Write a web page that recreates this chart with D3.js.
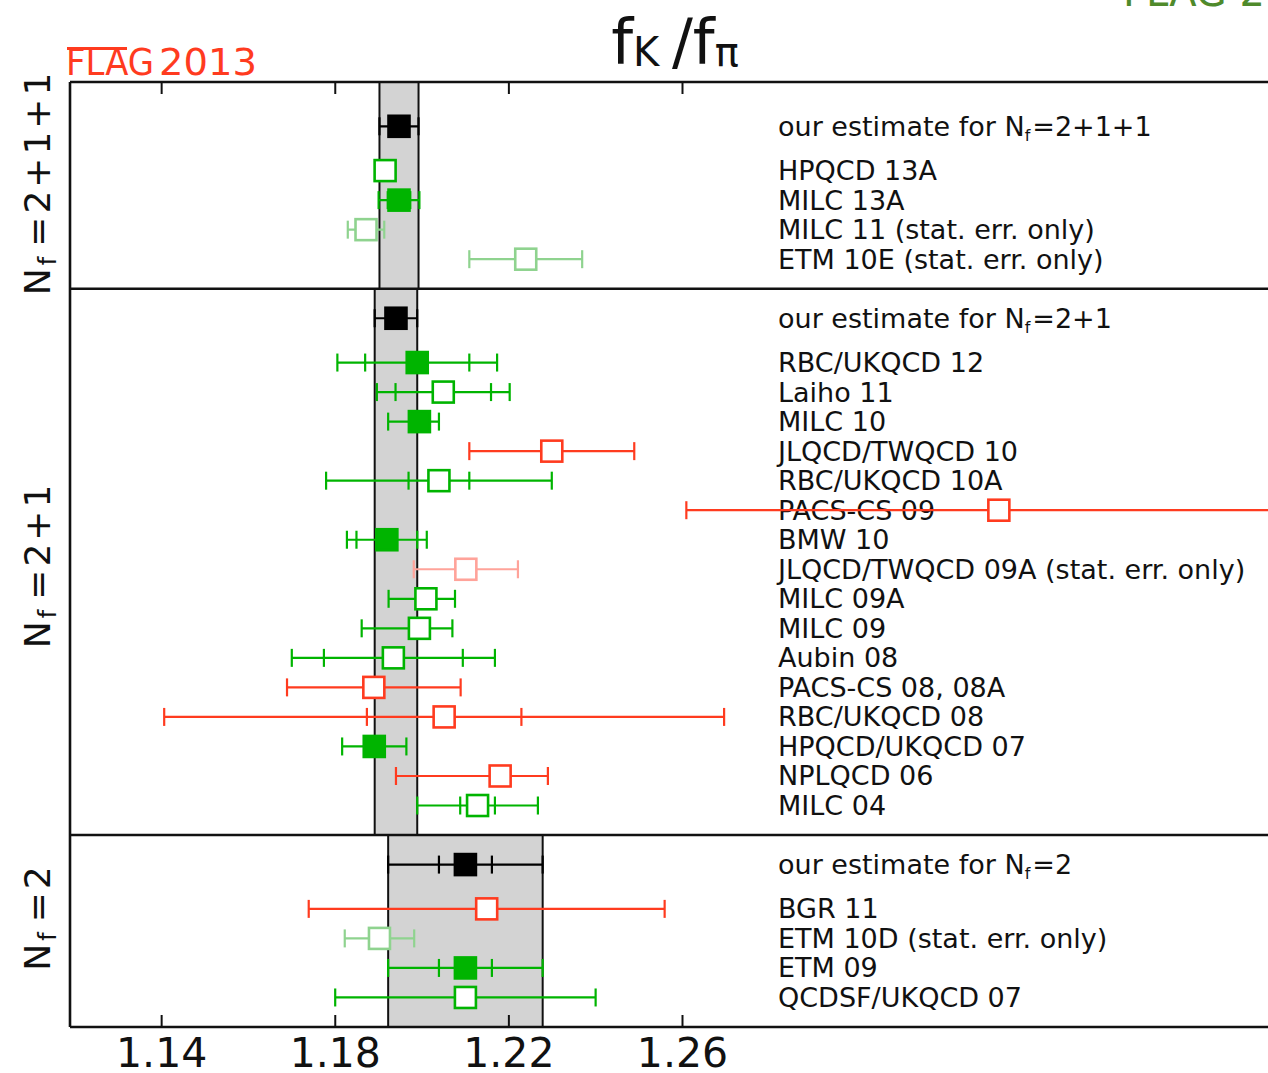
<!DOCTYPE html>
<html lang="en">
<head>
<meta charset="utf-8">
<title>fK/fpi</title>
<script src="https://d3js.org/d3.v7.min.js"></script>
<style>
  body { margin: 0; background: #fff; }
  svg { display: block; font-family: "DejaVu Sans", sans-serif; }
</style>
</head>
<body>
<script>
// tick labels
var xTicks = [1.14, 1.18, 1.22, 1.26];

// panels (N_f) and the FLAG estimate of each: value, stat error, total error
var panelNf  = ["2+1+1", "2+1", "2"];
var estValue = [1.1948, 1.1941, 1.2101];
var estStat  = [null, null, 0.0061];
var estErr   = [0.0045, 0.0049, 0.0178];

// N_f = 2+1+1
var names4 = ["HPQCD 13A", "MILC 13A", "MILC 11 (stat. err. only)", "ETM 10E (stat. err. only)"];
var value4 = [1.1916, 1.1948, 1.1872, 1.224];
var stat4  = [null, 0.0026, null, null];
var lo4    = [0.0015, 0.0047, 0.0042, 0.013];
var hi4    = [0.0015, 0.0047, 0.0042, 0.013];
var kind4  = ["open", "full", "faint", "faint"];

// N_f = 2+1
var names3 = ["RBC/UKQCD 12", "Laiho 11", "MILC 10", "JLQCD/TWQCD 10", "RBC/UKQCD 10A",
              "PACS-CS 09", "BMW 10", "JLQCD/TWQCD 09A (stat. err. only)", "MILC 09A", "MILC 09",
              "Aubin 08", "PACS-CS 08, 08A", "RBC/UKQCD 08", "HPQCD/UKQCD 07", "NPLQCD 06", "MILC 04"];
var value3 = [1.199, 1.205, 1.1995, 1.230, 1.204, 1.333, 1.192, 1.2102, 1.201, 1.1995,
              1.1935, 1.189, 1.2052, 1.1891, 1.2181, 1.2129];
var stat3  = [0.012, 0.011, null, null, 0.007, null, 0.007, null, null, null,
              0.016, null, 0.0178, null, null, 0.004];
var lo3    = [0.0184, 0.0153, 0.0072, 0.019, 0.026, 0.072, 0.0092, 0.012, 0.0086, 0.0133,
              0.0234, 0.020, 0.0645, 0.0074, 0.024, 0.0139];
var hi3    = [0.0184, 0.0153, 0.0045, 0.019, 0.026, 0.072, 0.0092, 0.012, 0.0067, 0.0076,
              0.0234, 0.020, 0.0645, 0.0074, 0.011, 0.0139];
var kind3  = ["full", "open", "full", "red", "open", "red", "full", "faintRed", "open", "open",
              "open", "red", "red", "full", "red", "open"];

// N_f = 2
var names2 = ["BGR 11", "ETM 10D (stat. err. only)", "ETM 09", "QCDSF/UKQCD 07"];
var value2 = [1.215, 1.1903, 1.2101, 1.2101];
var stat2  = [null, null, 0.0061, null];
var lo2    = [0.041, 0.008, 0.0178, 0.030];
var hi2    = [0.041, 0.008, 0.0178, 0.030];
var kind2  = ["red", "faint", "full", "open"];

var width = 1268, height = 1073;
var green = "#00b400", red = "#ff3b1f";
var stroke = { full: green, open: green, red: red, faint: "#8fd38f", faintRed: "#ffa39a", est: "#000" };
var fill   = { full: green, open: "#fff", red: "#fff", faint: "#fff", faintRed: "#fff", est: "#000" };

var x = d3.scaleLinear().domain([1.119, 1.26]).range([70, 682]);
var xEnd = x(1.41);
// one unit = one row of the plot
var y = d3.scaleLinear().domain([-1.5, 30.5]).range([82, 1027]);

var svg = d3.select("body").append("svg")
    .attr("width", width)
    .attr("height", height);

// build the rows of each panel
var groups = [[names4, value4, stat4, lo4, hi4, kind4],
              [names3, value3, stat3, lo3, hi3, kind3],
              [names2, value2, stat2, lo2, hi2, kind2]];
var topPad = [1.5, 1, 1];
var panels = [];
var slot = -1.5;
groups.forEach(function(g, p) {
    var top = slot;
    var est = top + topPad[p];
    var rows = [{ name: "est", v: estValue[p], stat: estStat[p], lo: estErr[p], hi: estErr[p], kind: "est", s: est }];
    g[0].forEach(function(n, i) {
        rows.push({ name: n, v: g[1][i], stat: g[2][i], lo: g[3][i], hi: g[4][i], kind: g[5][i], s: est + 1.5 + i });
    });
    var bottom = est + 1.5 + g[0].length;
    panels.push({ top: top, bottom: bottom, rows: rows, nf: panelNf[p] });
    slot = bottom;
});

var plot = svg.append("g");

// grey bands for the estimates
panels.forEach(function(pn, p) {
    var a = x(estValue[p] - estErr[p]), b = x(estValue[p] + estErr[p]);
    plot.append("rect")
        .attr("x", a).attr("y", y(pn.top))
        .attr("width", b - a).attr("height", y(pn.bottom) - y(pn.top))
        .attr("fill", "#d3d3d3");
    [a, b].forEach(function(e) {
        plot.append("line")
            .attr("x1", e).attr("x2", e)
            .attr("y1", y(pn.top)).attr("y2", y(pn.bottom))
            .attr("stroke", "#111").attr("stroke-width", 2);
    });
});

// labels on the right
panels.forEach(function(pn) {
    pn.rows.forEach(function(r) {
        var t = plot.append("text")
            .attr("x", 778).attr("y", y(r.s) + 9.5)
            .attr("font-size", 27)
            .attr("fill", "#111");
        if (r.kind === "est") {
            t.append("tspan").text("our estimate for N");
            t.append("tspan").attr("font-size", 16).attr("dy", 5).text("f");
            t.append("tspan").attr("dy", -5).attr("dx", 2).text("=" + pn.nf);
        } else {
            t.text(r.name);
        }
    });
});

// error bars and squares
var cap = 9, side = 21;
panels.forEach(function(pn) {
    pn.rows.forEach(function(r) {
        var g = plot.append("g").attr("stroke", stroke[r.kind]).attr("stroke-width", 2.2);
        var yy = y(r.s);
        g.append("line")
            .attr("x1", x(r.v - r.lo)).attr("x2", x(r.v + r.hi))
            .attr("y1", yy).attr("y2", yy);
        var caps = [r.v - r.lo, r.v + r.hi];
        if (r.stat) caps.push(r.v - r.stat, r.v + r.stat);
        caps.forEach(function(c) {
            g.append("line")
                .attr("x1", x(c)).attr("x2", x(c))
                .attr("y1", yy - cap).attr("y2", yy + cap);
        });
        g.append("rect")
            .attr("x", x(r.v) - side / 2).attr("y", yy - side / 2)
            .attr("width", side).attr("height", side)
            .attr("fill", fill[r.kind])
            .attr("stroke-width", 2.6);
    });
});

// frame
var frame = svg.append("g").attr("stroke", "#111").attr("stroke-width", 2.6);
frame.append("line").attr("x1", 70).attr("x2", 70).attr("y1", y(-1.5)).attr("y2", y(30.5));
[-1.5].concat(panels.map(function(p) { return p.bottom; })).forEach(function(s) {
    frame.append("line").attr("x1", 70).attr("x2", xEnd).attr("y1", y(s)).attr("y2", y(s));
});

// ticks: inward on top and bottom
var axTop = d3.axisTop(x).tickValues(xTicks).tickSize(-12).tickFormat("");
var axBot = d3.axisBottom(x).tickValues(xTicks).tickSize(-12).tickFormat(d3.format(".2f"));
svg.append("g").attr("transform", "translate(0," + y(-1.5) + ")").call(axTop)
    .call(function(g) { g.select(".domain").remove(); g.selectAll("line").attr("stroke", "#111").attr("stroke-width", 2); });
svg.append("g").attr("transform", "translate(0," + y(30.5) + ")").call(axBot)
    .call(function(g) {
        g.select(".domain").remove();
        g.selectAll("line").attr("stroke", "#111").attr("stroke-width", 2);
        g.selectAll("text").attr("font-size", 41).attr("font-family", "DejaVu Sans").attr("fill", "#111")
            .attr("dy", null).attr("y", 40);
    });

// N_f labels on the left
var labelShift = [-3, 3, -14];
panels.forEach(function(pn, p) {
    var cy = (y(pn.top) + y(pn.bottom)) / 2 + labelShift[p];
    var t = svg.append("text")
        .attr("transform", "translate(50," + cy + ") rotate(-90)")
        .attr("text-anchor", "middle")
        .attr("font-size", 36)
        .attr("letter-spacing", 3)
        .attr("fill", "#111");
    t.append("tspan").text("N");
    t.append("tspan").attr("font-size", 24).attr("dy", 6).text("f");
    t.append("tspan").attr("dy", -6).attr("dx", 7).text("=" + pn.nf);
});

// title
var title = svg.append("text")
    .attr("x", 675).attr("y", 63)
    .attr("text-anchor", "middle")
    .attr("font-size", 62)
    .attr("fill", "#111");
title.append("tspan").text("f");
title.append("tspan").attr("font-size", 40).attr("dy", 3).text("K ");
title.append("tspan").attr("dy", -3).text("/f");
title.append("tspan").attr("font-size", 40).attr("dy", 3).text("\u03c0");

// FLAG logos
svg.append("text").attr("x", 66).attr("y", 75).attr("font-size", 38)
    .attr("fill", red).attr("textLength", 88).attr("lengthAdjust", "spacingAndGlyphs").text("FLAG");
svg.append("text").attr("x", 159).attr("y", 75).attr("font-size", 38)
    .attr("fill", red).attr("textLength", 98).attr("lengthAdjust", "spacingAndGlyphs").text("2013");
svg.append("line").attr("x1", 67).attr("x2", 127).attr("y1", 48.5).attr("y2", 48.5)
    .attr("stroke", red).attr("stroke-width", 3);
svg.append("text").attr("x", 1123).attr("y", 6).attr("font-size", 40)
    .attr("fill", "#4f8a2b").text("FLAG 2013");
</script>
</body>
</html>
